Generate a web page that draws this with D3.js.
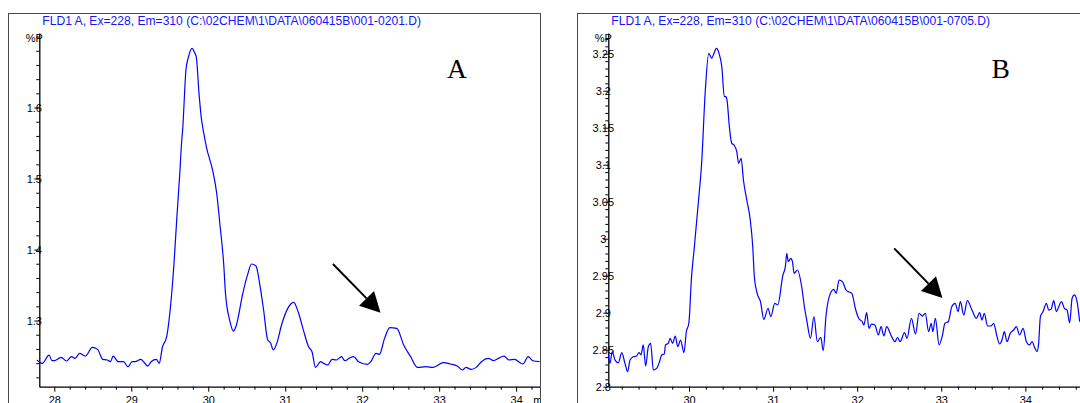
<!DOCTYPE html>
<html><head><meta charset="utf-8">
<script src="https://cdn.jsdelivr.net/npm/d3@7"></script>
<style>
html,body{margin:0;padding:0;background:#fff;}
svg{display:block;}
</style></head>
<body>
<svg id="c" width="1080" height="403"></svg>
<script>
// ---------------- data ----------------
const titleA = "FLD1 A, Ex=228, Em=310 (C:\\02CHEM\\1\\DATA\\060415B\\001-0201.D)";
const titleB = "FLD1 A, Ex=228, Em=310 (C:\\02CHEM\\1\\DATA\\060415B\\001-0705.D)";
const yUnit = "%P";
const xUnit = "min";
const panelLabels = ["A", "B"];

const aTime = [27.775,27.843,27.932,27.97,28.0,28.09,28.157,28.225,28.27,28.328,28.404,28.494,28.562,28.629,28.687,28.73,28.764,28.831,28.899,28.957,29.011,29.05,29.123,29.17,29.213,29.258,29.326,29.362,29.406,29.46,29.505,29.555,29.59,29.63,29.656,29.667,29.71,29.74,29.79,29.82,29.844,29.88,29.91,29.94,29.98,30.056,30.11,30.15,30.2,30.224,30.278,30.328,30.359,30.449,30.516,30.561,30.62,30.674,30.719,30.773,30.809,30.845,30.89,30.952,31.033,31.11,31.168,31.236,31.303,31.348,31.393,31.46,31.5,31.55,31.609,31.662,31.73,31.775,31.83,31.887,31.954,32.067,32.112,32.179,32.224,32.291,32.359,32.449,32.539,32.629,32.719,32.831,32.921,33.056,33.146,33.235,33.303,33.348,33.415,33.482,33.55,33.64,33.707,33.77,33.842,33.909,33.977,34.089,34.157,34.215,34.305];
const aSignal = [1.2444,1.2397,1.2514,1.2434,1.2434,1.2481,1.243,1.2491,1.2467,1.2538,1.25,1.2622,1.2594,1.2453,1.2444,1.242,1.25,1.242,1.242,1.235,1.242,1.242,1.2453,1.2406,1.2359,1.242,1.2453,1.2397,1.2631,1.2772,1.3148,1.3806,1.4415,1.507,1.5542,1.568,1.6528,1.67,1.6834,1.678,1.6716,1.62,1.585,1.565,1.5425,1.512,1.479,1.437,1.3806,1.3383,1.3007,1.2852,1.2913,1.3383,1.3664,1.3796,1.3768,1.3477,1.3148,1.2725,1.2688,1.2585,1.2678,1.2937,1.3171,1.3256,1.3124,1.2866,1.2631,1.2561,1.234,1.242,1.2397,1.2373,1.2453,1.2444,1.2491,1.2434,1.2467,1.2491,1.242,1.2383,1.242,1.2538,1.2524,1.2749,1.29,1.289,1.2655,1.2491,1.234,1.235,1.234,1.2406,1.2388,1.2359,1.2303,1.234,1.2312,1.234,1.242,1.2467,1.2434,1.2467,1.25,1.2444,1.2453,1.2388,1.2491,1.2434,1.242];

const bTime = [29.04,29.06,29.087,29.12,29.16,29.2,29.238,29.27,29.298,29.337,29.377,29.405,29.43,29.456,29.484,29.516,29.544,29.575,29.616,29.655,29.675,29.706,29.72,29.753,29.776,29.805,29.837,29.866,29.899,29.94,29.968,29.998,30.03,30.06,30.11,30.15,30.194,30.235,30.27,30.297,30.325,30.357,30.39,30.42,30.44,30.452,30.48,30.508,30.536,30.568,30.59,30.62,30.647,30.687,30.726,30.758,30.777,30.81,30.85,30.89,30.94,30.973,31.02,31.055,31.117,31.146,31.163,31.18,31.21,31.23,31.25,31.29,31.34,31.375,31.4,31.444,31.486,31.526,31.567,31.596,31.63,31.69,31.72,31.75,31.785,31.825,31.867,31.895,31.936,31.98,32.018,32.06,32.08,32.112,32.14,32.17,32.21,32.252,32.284,32.318,32.35,32.41,32.45,32.48,32.51,32.563,32.592,32.645,32.694,32.736,32.776,32.81,32.85,32.88,32.9,32.93,32.974,33.015,33.043,33.083,33.125,33.165,33.2,33.227,33.268,33.31,33.365,33.417,33.457,33.484,33.512,33.551,33.592,33.623,33.663,33.694,33.722,33.75,33.782,33.82,33.861,33.893,33.932,33.973,34.012,34.05,34.08,34.107,34.139,34.158,34.179,34.21,34.25,34.278,34.306,34.337,34.37,34.397,34.43,34.464,34.496,34.527,34.556,34.583,34.615,34.646];
const bSignal = [2.845,2.8316,2.8473,2.836,2.8324,2.846,2.8316,2.8203,2.836,2.8405,2.8415,2.846,2.843,2.8564,2.828,2.854,2.8586,2.8226,2.8248,2.836,2.843,2.8442,2.8564,2.8586,2.8654,2.8586,2.8685,2.854,2.863,2.846,2.8743,2.8857,2.9486,2.9847,3.0478,3.1019,3.2009,3.2505,3.2438,3.2505,3.2573,3.2505,3.2324,3.1919,3.1919,3.1874,3.1514,3.1289,3.1266,3.1176,3.1019,3.1086,3.0793,3.0523,3.0275,2.9892,2.9486,2.9262,2.9149,2.891,2.906,2.8946,2.9127,2.9104,2.951,2.9622,2.9803,2.969,2.9735,2.969,2.9532,2.9577,2.9351,2.906,2.8901,2.8654,2.8946,2.8608,2.8668,2.8486,2.8969,2.9284,2.9316,2.9262,2.9442,2.9419,2.9307,2.9284,2.9262,2.905,2.8924,2.8878,2.8834,2.9,2.8789,2.8847,2.8834,2.8699,2.8811,2.8685,2.8811,2.8676,2.8608,2.8668,2.8608,2.873,2.8654,2.8924,2.8712,2.8992,2.8955,2.8992,2.8743,2.8857,2.8743,2.8924,2.8564,2.8699,2.8857,2.8878,2.9081,2.9127,2.9014,2.9149,2.8969,2.9162,2.9036,2.8924,2.9,2.8901,2.8992,2.882,2.882,2.8857,2.8676,2.8577,2.863,2.8743,2.8608,2.8721,2.8766,2.8811,2.8699,2.8789,2.8608,2.8564,2.8608,2.854,2.8473,2.8586,2.8946,2.9014,2.9127,2.9036,2.9046,2.9162,2.9014,2.9081,2.9149,2.906,2.9036,2.8865,2.9195,2.924,2.9149,2.8878];

const aXTicks = [28, 29, 30, 31, 32, 33, 34];
const aYTicks = [1.3, 1.4, 1.5, 1.6];
const bXTicks = [30, 31, 32, 33, 34];
const bYTicks = [2.8, 2.85, 2.9, 2.95, 3, 3.05, 3.1, 3.15, 3.2, 3.25];

// arrow annotations in data units: [startTime, startValue, tipTime, tipValue]
const aArrow = [31.62, 1.3796, 32.238, 1.311];
const bArrow = [32.44, 2.987, 33.014, 2.92];

// ---------------- layout ----------------
const panels = [
  {title: titleA, label: panelLabels[0], time: aTime, signal: aSignal, xTicks: aXTicks, yTicks: aYTicks,
   xMinorStep: 0.2, yMinorStep: 0.02, arrow: aArrow,
   frame: {x: 8.5, y: 13.5, w: 532, h: 420},
   xDomain: [27.805, 34.31], xRange: [39.3, 540],
   yDomain: [1.2068, 1.705], yRange: [386.7, 33],
   labelX: 447, showUnit: true},
  {title: titleB, label: panelLabels[1], time: bTime, signal: bSignal, xTicks: bXTicks, yTicks: bYTicks,
   xMinorStep: 0.2, yMinorStep: 0.01, arrow: bArrow,
   frame: {x: 577.5, y: 13.5, w: 540, h: 420},
   xDomain: [29.04, 34.65], xRange: [608.3, 1080],
   yDomain: [2.8, 3.278], yRange: [386.7, 33],
   labelX: 991.4, showUnit: false}
];

const svg = d3.select("#c");
const FONT = "'Liberation Sans', Arial, Helvetica, sans-serif";
const fmt = v => String(+v.toFixed(2));

panels.forEach((p, i) => {
  const g = svg.append("g");
  const clipId = "clip" + i;
  svg.append("clipPath").attr("id", clipId).append("rect")
    .attr("x", p.frame.x).attr("y", p.frame.y).attr("width", p.frame.w).attr("height", p.frame.h);
  const inner = g.append("g").attr("clip-path", `url(#${clipId})`);

  const x = d3.scaleLinear().domain(p.xDomain).range(p.xRange);
  const y = d3.scaleLinear().domain(p.yDomain).range(p.yRange);

  // frame
  g.append("rect").attr("x", p.frame.x).attr("y", p.frame.y)
    .attr("width", p.frame.w).attr("height", p.frame.h)
    .attr("fill", "none").attr("stroke", "#4a4a4a").attr("stroke-width", 1);

  // title
  inner.append("text").attr("x", p.xRange[0] + 3).attr("y", 25.3)
    .attr("font-family", FONT).attr("font-size", 12.1).attr("fill", "#1414ff")
    .text(p.title);

  // minor ticks
  const xMinor = d3.range(Math.ceil(p.xDomain[0] / p.xMinorStep) * p.xMinorStep, p.xDomain[1], p.xMinorStep)
    .map(v => +v.toFixed(3)).filter(v => !p.xTicks.some(t => Math.abs(t - v) < 1e-6));
  const yMinor = d3.range(Math.ceil(p.yDomain[0] / p.yMinorStep) * p.yMinorStep, p.yDomain[1], p.yMinorStep)
    .map(v => +v.toFixed(3)).filter(v => !p.yTicks.some(t => Math.abs(t - v) < 1e-6));

  const xAxisY = p.yRange[0];
  const yAxisX = p.xRange[0];

  inner.append("g").attr("transform", `translate(0,${xAxisY})`)
    .call(d3.axisBottom(x).tickValues(xMinor).tickSize(3).tickSizeOuter(0).tickFormat(""))
    .call(s => s.select(".domain").remove());
  inner.append("g").attr("transform", `translate(${yAxisX},0)`)
    .call(d3.axisLeft(y).tickValues(yMinor).tickSize(3).tickSizeOuter(0).tickFormat(""))
    .call(s => s.select(".domain").remove());

  // major axes
  const xa = inner.append("g").attr("transform", `translate(0,${xAxisY})`)
    .call(d3.axisBottom(x).tickValues(p.xTicks).tickSize(5).tickSizeOuter(0).tickFormat(fmt));
  xa.selectAll("text").attr("y", 9.2).attr("dy", "0.71em");
  const ya = inner.append("g").attr("transform", `translate(${yAxisX},0)`)
    .call(d3.axisLeft(y).tickValues(p.yTicks).tickSize(5).tickSizeOuter(0).tickFormat(fmt));
  ya.selectAll("text").attr("x", -5).attr("text-anchor", "middle").attr("dy", "0.34em");

  inner.selectAll(".tick line").attr("stroke", "#000").attr("stroke-width", 1);
  inner.selectAll(".domain").attr("stroke", "#000").attr("stroke-width", 1.3);
  inner.selectAll(".tick text").attr("font-family", FONT).attr("font-size", 11).attr("fill", "#000");

  // units
  inner.append("text").attr("x", yAxisX - 5).attr("y", y.range()[1] + 5.6)
    .attr("dy", "0.35em").attr("text-anchor", "middle")
    .attr("font-family", FONT).attr("font-size", 11).text(yUnit);
  if (p.showUnit) {
    inner.append("text").attr("x", 533.3).attr("y", xAxisY + 9.2).attr("dy", "0.71em")
      .attr("font-family", FONT).attr("font-size", 11).text(xUnit);
  }

  // trace
  const line = d3.line().x((d, j) => x(p.time[j])).y(d => y(d)).curve(d3.curveMonotoneX);
  inner.append("path").datum(p.signal).attr("d", line)
    .attr("fill", "none").attr("stroke", "#0000ff").attr("stroke-width", 1.2)
    .attr("stroke-linejoin", "round");

  // panel letter
  inner.append("text").attr("x", p.labelX).attr("y", 78.3)
    .attr("font-family", "'Liberation Serif', 'Times New Roman', serif").attr("font-size", 27.5)
    .attr("fill", "#000").text(p.label);

  // arrow
  const [t0, v0, t1, v1] = p.arrow;
  const sx = x(t0), sy = y(v0), ex = x(t1), ey = y(v1);
  const ang = Math.atan2(ey - sy, ex - sx);
  const headLen = 20, headHalf = 10.5;
  const bx = ex - headLen * Math.cos(ang), by = ey - headLen * Math.sin(ang);
  inner.append("line").attr("x1", sx).attr("y1", sy).attr("x2", bx).attr("y2", by)
    .attr("stroke", "#000").attr("stroke-width", 2);
  const px = -Math.sin(ang), py = Math.cos(ang);
  inner.append("path")
    .attr("d", `M${ex},${ey}L${bx + headHalf * px},${by + headHalf * py}L${bx - headHalf * px},${by - headHalf * py}Z`)
    .attr("fill", "#000");
});
</script>
</body></html>
